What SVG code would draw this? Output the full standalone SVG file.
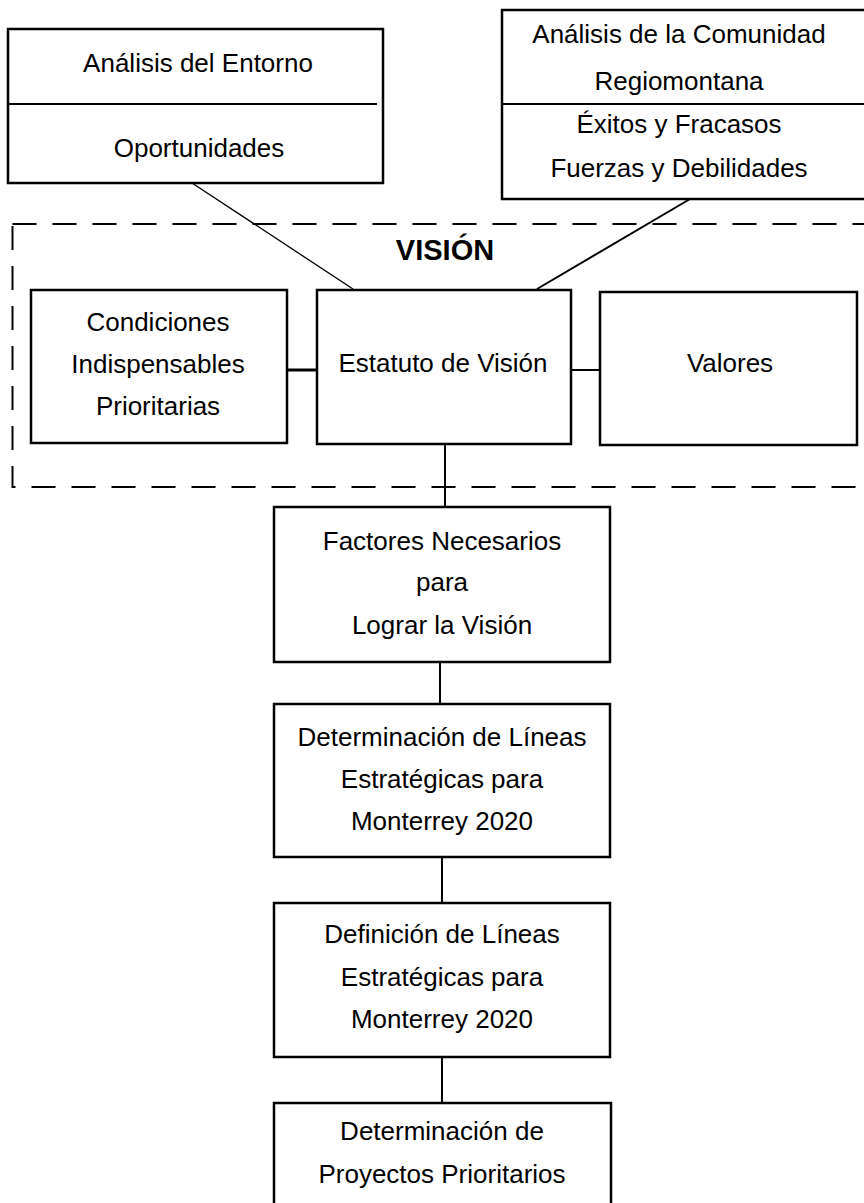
<svg xmlns="http://www.w3.org/2000/svg" width="864" height="1203" viewBox="0 0 864 1203">
<style>
.box{fill:#fff;stroke:#000;stroke-width:2.5}
.t{font-family:"Liberation Sans",Arial,sans-serif;font-size:26px;fill:#000;text-anchor:middle}
.title{font-family:"Liberation Sans",Arial,sans-serif;font-size:29px;font-weight:bold;fill:#000;text-anchor:middle}
.c{stroke:#000;fill:none}
</style>
<rect width="864" height="1203" fill="#fff"/>
<g id="vision-frame">
<rect x="12.5" y="224" width="870" height="263" fill="none" stroke="#000" stroke-width="2" stroke-dasharray="24,16"/>
<text class="title" x="445" y="260">VISIÓN</text>
</g>
<g id="connectors">
<line class="c" x1="192" y1="183" x2="353" y2="289" stroke-width="1.3"/>
<line class="c" x1="690" y1="199" x2="537" y2="289" stroke-width="2"/>
<line class="c" x1="287" y1="370" x2="317" y2="370" stroke-width="3"/>
<line class="c" x1="571" y1="370" x2="600" y2="370" stroke-width="2"/>
<line class="c" x1="445" y1="444" x2="445" y2="507" stroke-width="2"/>
<line class="c" x1="440" y1="662" x2="440" y2="704" stroke-width="2"/>
<line class="c" x1="442" y1="857" x2="442" y2="903" stroke-width="2"/>
<line class="c" x1="442" y1="1057" x2="442" y2="1103" stroke-width="2"/>
</g>
<g id="analisis-entorno">
<rect class="box" x="8" y="29" width="375" height="154"/>
<line x1="8" y1="104" x2="377" y2="104" stroke="#000" stroke-width="2"/>
<text class="t" x="198" y="72">Análisis del Entorno</text>
<text class="t" x="199" y="157">Oportunidades</text>
</g>
<g id="analisis-comunidad">
<rect class="box" x="502" y="10" width="370" height="189"/>
<line x1="502" y1="104" x2="870" y2="104" stroke="#000" stroke-width="2"/>
<text class="t" x="679" y="43">Análisis de la Comunidad</text>
<text class="t" x="679" y="90">Regiomontana</text>
<text class="t" x="679" y="133">Éxitos y Fracasos</text>
<text class="t" x="679" y="177">Fuerzas y Debilidades</text>
</g>
<g id="condiciones">
<rect class="box" x="31" y="290" width="256" height="153"/>
<text class="t" x="158" y="331">Condiciones</text>
<text class="t" x="158" y="373">Indispensables</text>
<text class="t" x="158" y="415">Prioritarias</text>
</g>
<g id="estatuto">
<rect class="box" x="317" y="290" width="254" height="154"/>
<text class="t" x="443" y="372">Estatuto de Visión</text>
</g>
<g id="valores">
<rect class="box" x="600" y="292" width="257" height="153"/>
<text class="t" x="730" y="372">Valores</text>
</g>
<g id="factores">
<rect class="box" x="274" y="507" width="336" height="155"/>
<text class="t" x="442" y="550">Factores Necesarios</text>
<text class="t" x="442" y="591">para</text>
<text class="t" x="442" y="634">Lograr la Visión</text>
</g>
<g id="determinacion-lineas">
<rect class="box" x="274" y="704" width="336" height="153"/>
<text class="t" x="442" y="746">Determinación de Líneas</text>
<text class="t" x="442" y="788">Estratégicas para</text>
<text class="t" x="442" y="830">Monterrey 2020</text>
</g>
<g id="definicion-lineas">
<rect class="box" x="274" y="903" width="336" height="154"/>
<text class="t" x="442" y="943">Definición de Líneas</text>
<text class="t" x="442" y="986">Estratégicas para</text>
<text class="t" x="442" y="1028">Monterrey 2020</text>
</g>
<g id="proyectos">
<rect class="box" x="274" y="1103" width="337" height="110"/>
<text class="t" x="442" y="1140">Determinación de</text>
<text class="t" x="442" y="1183">Proyectos Prioritarios</text>
</g>
</svg>
